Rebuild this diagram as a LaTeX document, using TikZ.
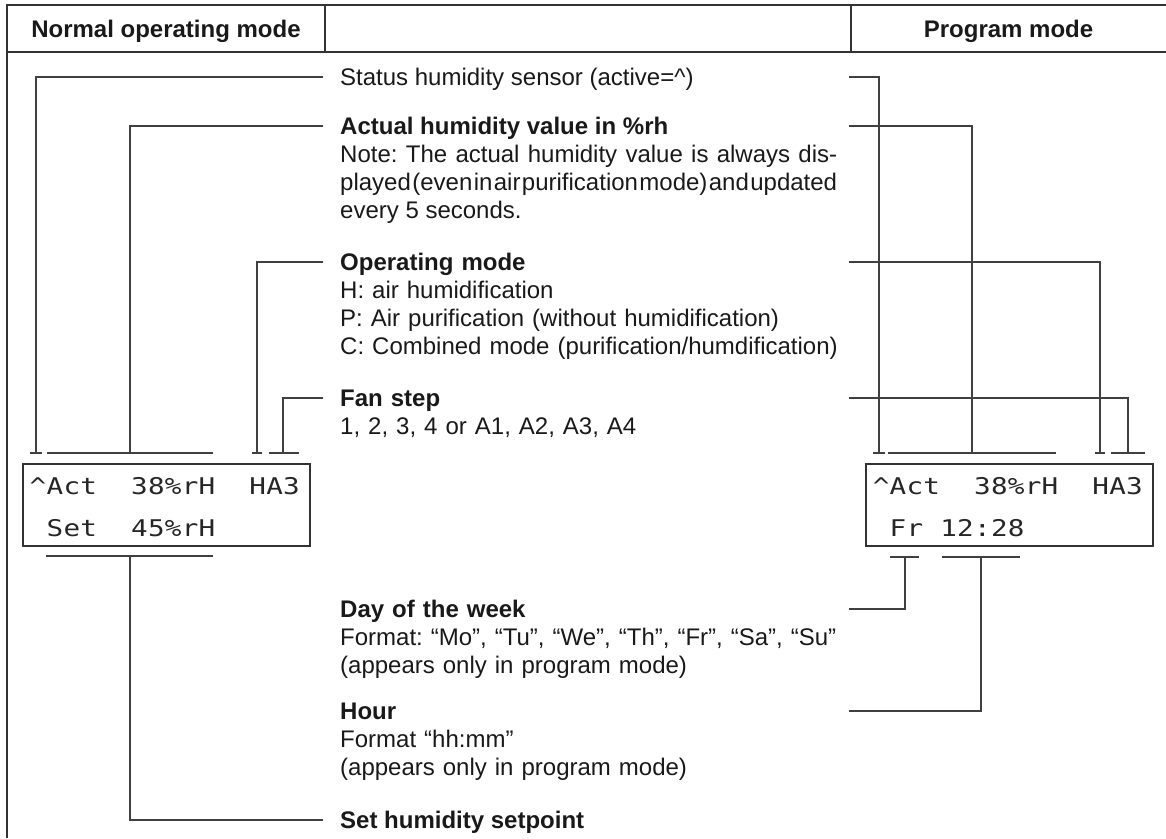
\documentclass[tikz,border=0pt]{standalone}
\usepackage{fontspec}
\setmainfont{Liberation Sans}
\newfontfamily\lcdfont[FakeStretch = 1.2]{DejaVu Sans Mono}
\usetikzlibrary{calc}

% fixed pitch for the display characters
\newlength\lcdpitch
\setlength\lcdpitch{16.9pt}
\let\lcdend\relax
\def\lcdloop#1{\ifx#1\lcdend\else\makebox[\lcdpitch]{#1}\expandafter\lcdloop\fi}
\newcommand\lcdrow[1]{\lcdloop#1\lcdend}

\tikzset{
frame/.style = {draw = black!80, line width = 1.2pt},
leader/.style = {draw = black!75, line width = 1.1pt},
head/.style = {inner sep = 0pt, anchor = base, text = black!90,
   font = \fontsize{24}{28}\selectfont\bfseries},
lbl/.style = {inner sep = 0pt, anchor = base west, text = black!90,
   font = \fontsize{24}{28}\selectfont\frenchspacing},
lblbox/.style = {lbl, text width = 540pt, align = left},
lcd/.style = {draw = black!80, line width = 1.2pt, minimum width = 287pt,
   minimum height = 82pt, inner sep = 0pt},
lcdtext/.style = {inner sep = 0pt, anchor = base west, text = black!85,
   font = \fontsize{23}{26}\selectfont\lcdfont}
}

\begin{document}
\begin{tikzpicture}[x = 1pt, y = -1pt]
\useasboundingbox (0,0) rectangle (1166,838);

%% Table
\draw [frame] (7,838) -- (7,5) -- (1166,5);
\draw [frame] (7,52) -- (1166,52);
\draw [frame] (325,5) -- (325,52);
\draw [frame] (851,5) -- (851,52);
\node [head] (normal) at (166,37) {Normal operating mode};
\node [head] (program) at (1008.5,37) {Program mode};

%% Displays
\node [lcd] (lcdN) at (166.5,505) {};
\node [lcdtext] (rowN1) at ($(lcdN.north west)+(7,31)$) {\lcdrow{\textasciicircum Act~~38\%rH~~HA3}};
\node [lcdtext] (rowN2) at ($(lcdN.north west)+(7,73)$) {\lcdrow{~Set~~45\%rH}};

\node [lcd] (lcdP) at (1009.5,505) {};
\node [lcdtext] (rowP1) at ($(lcdP.north west)+(7,31)$) {\lcdrow{\textasciicircum Act~~38\%rH~~HA3}};
\node [lcdtext] (rowP2) at ($(lcdP.north west)+(7,73)$) {\lcdrow{~Fr~12:28}};

%% Labels
\node [lbl] (status) at (340,85.5) {Status humidity sensor (active=\textasciicircum)};
\node [lbl, text width = 497pt, align = justify] (actual) at (340,134.5)
   {\textbf{Actual humidity value in \%rh}\\
   Note: The actual humidity value is always dis-\linebreak{\spaceskip=.02em plus 1em\relax played (even in air purification mode) and updated}\linebreak every 5 seconds.};
\node [lblbox] (opmode) at (340,270.5) {\textbf{Operating mode}\\ H: air humidification\\
   P: Air purification (without humidification)\\ C: Combined mode (purification/humdification)};
\node [lblbox] (fan) at (340,406.5) {\textbf{Fan step}\\ 1, 2, 3, 4 or A1, A2, A3, A4};
\node [lblbox] (day) at (340,617.5) {\textbf{Day of the week}\\
   Format: “Mo”, “Tu”, “We”, “Th”, “Fr”, “Sa”, “Su”\\ (appears only in program mode)};
\node [lblbox] (hour) at (340,719.5) {\textbf{Hour}\\ Format “hh:mm”\\ (appears only in program mode)};
\node [lbl] (setp) at (340,828.5) {\textbf{Set humidity setpoint}};

%% Leader ends at the labels
\coordinate (statusL) at ($(status.base west)+(-17,-8.5)$);
\coordinate (actualL) at ($(actual.base west)+(-17,-8.5)$);
\coordinate (opmodeL) at ($(opmode.base west)+(-17,-8.5)$);
\coordinate (fanL) at ($(fan.base west)+(-17,-8.5)$);
\coordinate (setpL) at ($(setp.base west)+(-17,-8.5)$);
\coordinate (statusR) at ($(statusL)+(526,0)$);
\coordinate (actualR) at ($(actualL)+(526,0)$);
\coordinate (opmodeR) at ($(opmodeL)+(526,0)$);
\coordinate (fanR) at ($(fanL)+(526,0)$);
\coordinate (dayR) at ($(day.base west)+(509,-8.5)$);
\coordinate (hourR) at ($(hour.base west)+(509,-8.5)$);

%% Leader ends at the displays
\coordinate (tStatN) at (36,453);
\coordinate (tActN) at (130,453);
\coordinate (tOpN) at (257,453);
\coordinate (tFanN) at (283,453);
\coordinate (bSetN) at (130,556);
\coordinate (tStatP) at (879,453);
\coordinate (tActP) at (972,453);
\coordinate (tOpP) at (1100,453);
\coordinate (tFanP) at (1128,453);
\coordinate (bDayP) at (905,557);
\coordinate (bHourP) at (981,557);

%% Normal operating mode
\draw [leader] (statusL) -| (tStatN);
\draw [leader] ([xshift = -6pt]tStatN) -- ([xshift = 6pt]tStatN);
\draw [leader] (actualL) -| (tActN);
\draw [leader] ([xshift = -83pt]tActN) -- ([xshift = 83pt]tActN);
\draw [leader] (opmodeL) -| (tOpN);
\draw [leader] ([xshift = -5pt]tOpN) -- ([xshift = 5pt]tOpN);
\draw [leader] (fanL) -| (tFanN);
\draw [leader] ([xshift = -14pt]tFanN) -- ([xshift = 16pt]tFanN);
\draw [leader] (setpL) -| (bSetN);
\draw [leader] ([xshift = -84pt]bSetN) -- ([xshift = 83pt]bSetN);

%% Program mode
\draw [leader] (statusR) -| (tStatP);
\draw [leader] ([xshift = -6pt]tStatP) -- ([xshift = 6pt]tStatP);
\draw [leader] (actualR) -| (tActP);
\draw [leader] ([xshift = -84pt]tActP) -- ([xshift = 84pt]tActP);
\draw [leader] (opmodeR) -| (tOpP);
\draw [leader] ([xshift = -5pt]tOpP) -- ([xshift = 5pt]tOpP);
\draw [leader] (fanR) -| (tFanP);
\draw [leader] ([xshift = -17pt]tFanP) -- ([xshift = 17pt]tFanP);
\draw [leader] (dayR) -| (bDayP);
\draw [leader] ([xshift = -15pt]bDayP) -- ([xshift = 14pt]bDayP);
\draw [leader] (hourR) -| (bHourP);
\draw [leader] ([xshift = -39pt]bHourP) -- ([xshift = 39pt]bHourP);

\end{tikzpicture}
\end{document}
